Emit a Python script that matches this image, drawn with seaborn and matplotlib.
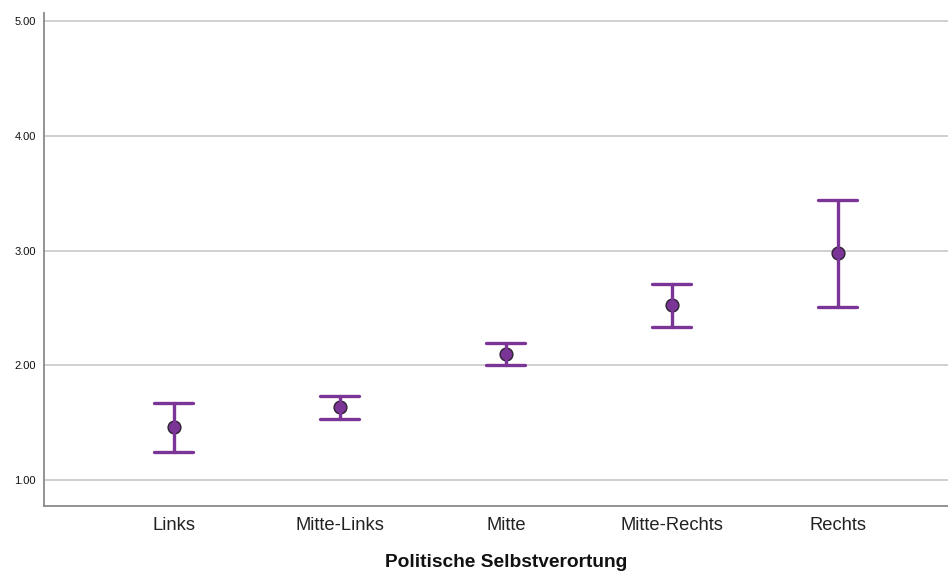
import matplotlib
matplotlib.use("Agg")
import matplotlib.pyplot as plt
import pandas as pd
import seaborn as sns

# Mean and 95% CI per category of political self-placement
categories = ["Links", "Mitte-Links", "Mitte", "Mitte-Rechts", "Rechts"]
means = [1.46, 1.635, 2.10, 2.523, 2.976]
ci_lower = [1.249, 1.531, 2.00, 2.337, 2.508]
ci_upper = [1.675, 1.736, 2.192, 2.706, 3.437]
y_ticks = [1.00, 2.00, 3.00, 4.00, 5.00]

# Long table: each category holds lower bound, mean, upper bound.
# Median gives the mean, min/max give the interval ends.
rows = []
for c, lo, m, hi in zip(categories, ci_lower, means, ci_upper):
    for v in (lo, m, hi):
        rows.append({"Kategorie": c, "Wert": v})
df = pd.DataFrame(rows)

sns.set_theme(style="white")
plt.rcParams["font.family"] = ["Liberation Sans", "DejaVu Sans"]

purple = "#7a3596"
x_left, x_right = -0.783, 4.663

fig = plt.figure(figsize=(9.48, 5.72), dpi=100)
ax = fig.add_axes([44 / 948, 66 / 572, 1 - 44 / 948, (506 - 12.7) / 572])

sns.pointplot(
    data=df, x="Kategorie", y="Wert", order=categories,
    estimator="median", errorbar=lambda v: (v.min(), v.max()),
    linestyle="none", marker="o", markersize=9.2,
    color=purple, markeredgecolor="#2c2230", markeredgewidth=1.0,
    capsize=0.235, err_kws={"linewidth": 2.4, "color": purple},
    ax=ax,
)

ax.set_xlim(x_left, x_right)
ax.set_ylim(0.776, 5.07)
ax.set_yticks(y_ticks)
ax.set_yticklabels([f"{t:.2f}" for t in y_ticks], fontsize=8, color="#111111")
ax.tick_params(axis="x", labelsize=13.2, colors="#222222", length=0, pad=8)
ax.tick_params(axis="y", length=0, pad=6)

ax.grid(axis="y", color="#d0d0d0", linewidth=1.4)
ax.set_axisbelow(True)
ax.set_ylabel("")
ax.set_xlabel("Politische Selbstverortung", fontsize=13.8, fontweight="bold",
              color="#111111", labelpad=14)
# centre the axis title under the middle category
ax.xaxis.label.set_x((2 - x_left) / (x_right - x_left))

for side in ("top", "right"):
    ax.spines[side].set_visible(False)
for side in ("left", "bottom"):
    ax.spines[side].set_color("#8a8a8a")
    ax.spines[side].set_linewidth(1.3)

fig.savefig("out.png", dpi=100)
